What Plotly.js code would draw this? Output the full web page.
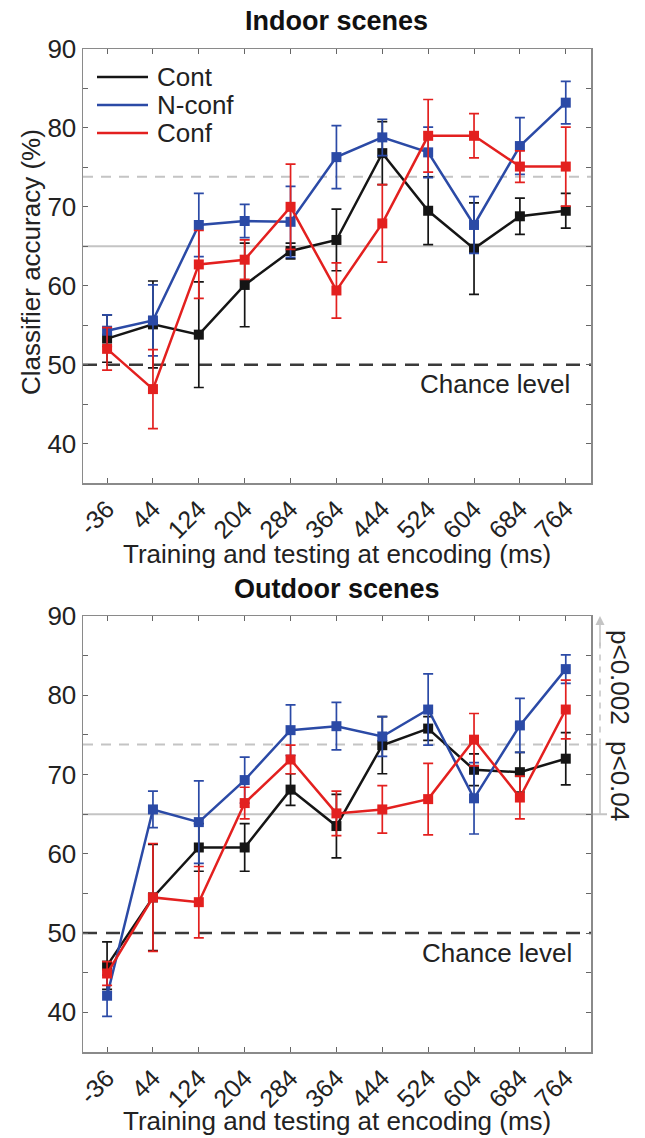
<!DOCTYPE html>
<html>
<head>
<meta charset="utf-8">
<script src="https://cdn.plot.ly/plotly-3.0.1.min.js"></script>
<style>html,body{margin:0;padding:0;background:#fff;}#chart{width:645px;height:1138px;}</style>
</head>
<body>
<div id="chart"></div>
<script>
// ---- data ----
const times = [-36, 44, 124, 204, 284, 364, 444, 524, 604, 684, 764];
const tickLabels = ['-36', '44', '124', '204', '284', '364', '444', '524', '604', '684', '764'];
const seriesNames = ['Cont', 'N-conf', 'Conf'];

// Indoor scenes
const contIn = [53.3, 55.1, 53.8, 60.1, 64.4, 65.8, 76.8, 69.5, 64.7, 68.8, 69.5];
const contInErr = [3.0, 5.5, 6.7, 5.3, 1.0, 3.9, 4.0, 4.3, 5.8, 2.3, 2.2];
const nconfIn = [54.3, 55.6, 67.7, 68.2, 68.1, 76.3, 78.8, 76.9, 67.7, 77.7, 83.2];
const nconfInErr = [2.0, 4.5, 4.0, 2.1, 4.5, 4.0, 2.3, 3.2, 3.6, 3.6, 2.7];
const confIn = [52.0, 46.9, 62.7, 63.3, 70.0, 59.4, 67.9, 79.0, 79.0, 75.1, 75.1];
const confInErr = [2.7, 5.0, 4.3, 2.5, 5.4, 3.5, 4.9, 4.6, 2.8, 2.0, 5.0];

// Outdoor scenes
const contOut = [45.9, 54.5, 60.8, 60.8, 68.1, 63.5, 73.7, 75.8, 70.6, 70.3, 72.0];
const contOutErr = [3.0, 6.7, 3.0, 3.0, 2.0, 4.0, 3.6, 1.5, 2.0, 2.5, 3.3];
const nconfOut = [42.1, 65.6, 64.0, 69.3, 75.6, 76.1, 74.8, 78.2, 67.0, 76.2, 83.3];
const nconfOutErr = [2.6, 2.3, 5.2, 2.9, 3.2, 3.0, 2.5, 4.5, 4.5, 3.4, 1.8];
const confOut = [44.9, 54.5, 53.9, 66.4, 71.9, 65.1, 65.6, 66.9, 74.4, 67.1, 78.2];
const confOutErr = [1.5, 6.8, 4.5, 2.0, 1.8, 2.8, 3.0, 4.5, 3.3, 2.7, 3.7];

// reference levels
const chanceLevel = 50;
const sigLow = 65;     // p<0.04
const sigHigh = 73.8;  // p<0.002

// ---- styling ----
const colors = ['#151515', '#2b4aa6', '#e3201f'];
const FONT = 'Liberation Sans, Arial, sans-serif';
const txt = '#222';
const FS = 26;

function series(y, err, i, xa, ya) {
  return {
    x: times, y: y, xaxis: xa, yaxis: ya, type: 'scatter', mode: 'lines+markers',
    name: seriesNames[i], showlegend: false,
    line: {color: colors[i], width: 2.5},
    marker: {symbol: 'square', size: 10, color: colors[i]},
    error_y: {type: 'data', array: err, visible: true, color: colors[i], thickness: 1.7, width: 5}
  };
}

const traces = [
  series(contIn, contInErr, 0, 'x', 'y'),
  series(nconfIn, nconfInErr, 1, 'x', 'y'),
  series(confIn, confInErr, 2, 'x', 'y'),
  series(contOut, contOutErr, 0, 'x2', 'y2'),
  series(nconfOut, nconfOutErr, 1, 'x2', 'y2'),
  series(confOut, confOutErr, 2, 'x2', 'y2')
];

const xDom = [83 / 645, 591 / 645];
const topDom = [1 - 483 / 1138, 1 - 49 / 1138];
const botDom = [1 - 1052 / 1138, 1 - 616 / 1138];

function xaxis(anchor, dom) {
  return {
    domain: dom, anchor: anchor, range: [-78, 808],
    tickvals: times, ticktext: tickLabels, tickangle: -45,
    ticks: 'inside', ticklen: 5, tickcolor: '#666', tickwidth: 1,
    showline: true, linecolor: '#8a8a8a', linewidth: 1.5, mirror: 'allticks',
    showgrid: false, zeroline: false,
    tickfont: {family: FONT, size: 25, color: txt}
  };
}
function yaxis(anchor, dom) {
  return {
    domain: dom, anchor: anchor, range: [35, 90],
    tickvals: [40, 50, 60, 70, 80, 90],
    ticks: 'inside', ticklen: 5, tickcolor: '#666', tickwidth: 1,
    minor: {dtick: 5, ticks: 'inside', ticklen: 5, tickcolor: '#666', showgrid: false},
    showline: true, linecolor: '#8a8a8a', linewidth: 1.5, mirror: 'allticks',
    showgrid: false, zeroline: false,
    tickfont: {family: FONT, size: FS, color: txt}
  };
}

const gx0 = 600 / 645;
const shapes = [];
[['y', xDom[1]], ['y2', 607 / 645]].forEach(([yr, xEnd]) => {
  shapes.push({type: 'line', xref: 'paper', yref: yr, x0: xDom[0], x1: xEnd, y0: sigLow, y1: sigLow,
    line: {color: '#c4c4c4', width: 2}, layer: 'below'});
  shapes.push({type: 'line', xref: 'paper', yref: yr, x0: xDom[0], x1: xEnd, y0: sigHigh, y1: sigHigh,
    line: {color: '#c4c4c4', width: 2, dash: '10px,8px'}, layer: 'below'});
  shapes.push({type: 'line', xref: 'paper', yref: yr, x0: xDom[0], x1: xDom[1], y0: chanceLevel, y1: chanceLevel,
    line: {color: '#3a3a3a', width: 2.5, dash: '14px,9px'}, layer: 'below'});
});
// significance bracket on outdoor panel
shapes.push({type: 'line', xref: 'paper', yref: 'y2', x0: gx0, x1: gx0, y0: sigLow, y1: sigHigh,
  line: {color: '#c4c4c4', width: 1.5}});
shapes.push({type: 'line', xref: 'paper', yref: 'y2', x0: gx0, x1: gx0, y0: sigHigh, y1: 87,
  line: {color: '#c4c4c4', width: 1.5, dash: '6px,6px'}});

function ann(text, x, y, extra) {
  return Object.assign({text: text, xref: 'paper', yref: 'paper', x: x / 645, y: 1 - y / 1138,
    xanchor: 'center', yanchor: 'middle', showarrow: false,
    font: {family: FONT, size: FS, color: txt}}, extra || {});
}

const annotations = [
  ann('<b>Indoor scenes</b>', 337, 21, {font: {family: FONT, size: 27, color: '#111'}}),
  ann('<b>Outdoor scenes</b>', 337, 589, {font: {family: FONT, size: 27, color: '#111'}}),
  ann('Training and testing at encoding (ms)', 337, 554),
  ann('Training and testing at encoding (ms)', 337, 1121),
  ann('Classifier accuracy (%)', 31, 262, {textangle: -90}),
  ann('p<0.002', 620, 677, {textangle: 90}),
  ann('p<0.04', 620, 781, {textangle: 90}),
  {text: 'Chance level', xref: 'paper', yref: 'y', x: 572 / 645, y: 47.5, xanchor: 'right', yanchor: 'middle',
    showarrow: false, font: {family: FONT, size: FS, color: txt}},
  {text: 'Chance level', xref: 'paper', yref: 'y2', x: 574 / 645, y: 47.5, xanchor: 'right', yanchor: 'middle',
    showarrow: false, font: {family: FONT, size: FS, color: txt}},
  {text: '', xref: 'paper', yref: 'y2', x: gx0, y: 90, axref: 'pixel', ayref: 'y2', ax: 0, ay: 86,
    showarrow: true, arrowhead: 2, arrowsize: 1.2, arrowwidth: 1.5, arrowcolor: '#c4c4c4'}
];

// legend (top panel, upper-left)
const legRows = [77, 105, 133];
seriesNames.forEach((n, i) => {
  const yp = 1 - legRows[i] / 1138;
  shapes.push({type: 'line', xref: 'paper', yref: 'paper', x0: 97 / 645, x1: 148 / 645, y0: yp, y1: yp,
    line: {color: colors[i], width: 2.5}});
  annotations.push({text: n, xref: 'paper', yref: 'paper', x: 155 / 645, y: yp, xanchor: 'left', yanchor: 'middle',
    showarrow: false, font: {family: FONT, size: FS, color: txt}});
});

const layout = {
  width: 645, height: 1138,
  margin: {l: 0, r: 0, t: 0, b: 0},
  paper_bgcolor: '#fff', plot_bgcolor: '#fff',
  font: {family: FONT, size: FS, color: txt},
  showlegend: false,
  xaxis: xaxis('y', xDom),
  yaxis: yaxis('x', topDom),
  xaxis2: xaxis('y2', xDom),
  yaxis2: yaxis('x2', botDom),
  shapes: shapes,
  annotations: annotations
};

Plotly.newPlot('chart', traces, layout, {staticPlot: true, displayModeBar: false});
</script>
</body>
</html>
